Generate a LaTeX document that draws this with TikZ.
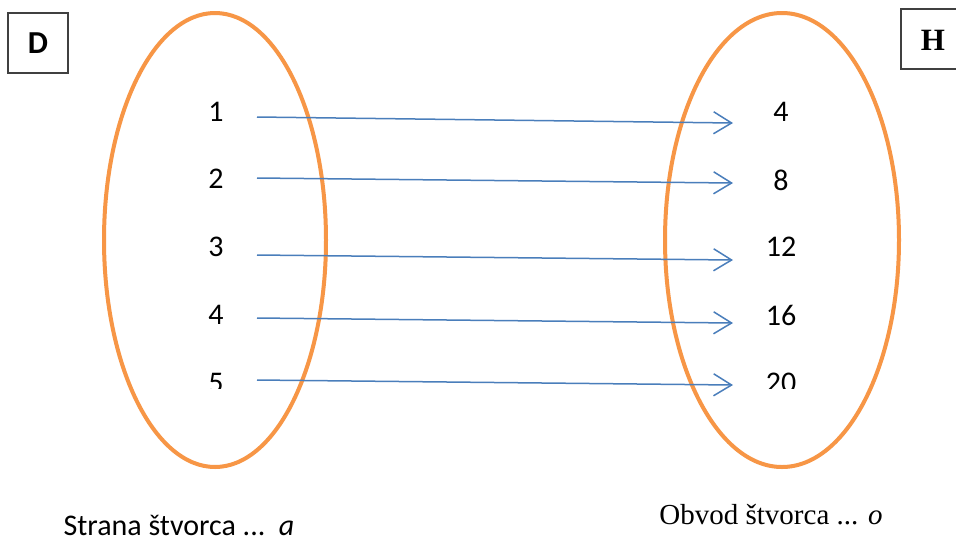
\documentclass[tikz,border=0pt]{standalone}
\usepackage{fontspec}
\setmainfont{Carlito}
\newfontfamily\timesfont{Liberation Serif}
\usetikzlibrary{arrows.meta}
\definecolor{ellorange}{HTML}{F79646}
\definecolor{arrblue}{HTML}{4A7EBB}
\begin{document}
\begin{tikzpicture}[x=1pt,y=-1pt,
  ell/.style={draw=ellorange,line width=4pt},
  arr/.style={draw=arrblue,line width=1.5pt,-{Straight Barb[length=18pt,width=22pt,line width=1.5pt]}},
  num/.style={inner sep=0pt,font=\fontsize{30}{32}\selectfont},
  lbox/.style={draw=black!75,line width=1.2pt,inner sep=0pt}]
\useasboundingbox (0,0) rectangle (956,542);
\fill[white] (0,0) rectangle (956,542);
% ellipses
\draw[ell] (215,240) ellipse [x radius=111, y radius=227];
\draw[ell] (782,240) ellipse [x radius=117, y radius=227];
% boxes
\node[lbox,minimum width=60pt,minimum height=60pt,font=\fontsize{32}{34}\selectfont\bfseries] (D) at (38,43) {D};
\draw[draw=black!75,line width=1.2pt] (960,9) -- (901,9) -- (901,69) -- (960,69);
\node[inner sep=0pt,font=\timesfont\fontsize{31}{33}\selectfont\bfseries] (H) at (933,40) {H};
% numbers
\begin{scope}
\clip (0,0) rectangle (956,388.5);
\node[num] (l1) at (216,112) {1};
\node[num] (l2) at (216,179) {2};
\node[num] (l3) at (216,247) {3};
\node[num] (l4) at (216,315) {4};
\node[num] (l5) at (216,383) {5};
\node[num] (r1) at (781,112) {4};
\node[num] (r2) at (781,180) {8};
\node[num] (r3) at (781,247) {12};
\node[num] (r4) at (781,315) {16};
\node[num] (r5) at (781,383) {20};
\end{scope}
% arrows
\coordinate (s1) at (257,117); \coordinate (e1) at (733,123);
\coordinate (s2) at (257,178); \coordinate (e2) at (733,183);
\coordinate (s3) at (257,255); \coordinate (e3) at (733,260);
\coordinate (s4) at (257,318); \coordinate (e4) at (733,323);
\coordinate (s5) at (257,380); \coordinate (e5) at (733,385);
\foreach \i in {1,...,5}{\draw[arr] (s\i) -- (e\i);}
% captions
\node[inner sep=0pt,font=\fontsize{30}{32}\selectfont] (capL) at (179,525) {Strana štvorca ...\ \ \textit{a}};
\node[inner sep=0pt,font=\timesfont\fontsize{29}{31}\selectfont] (capR) at (771,515) {Obvod štvorca ... \textit{o}};
\end{tikzpicture}
\end{document}
